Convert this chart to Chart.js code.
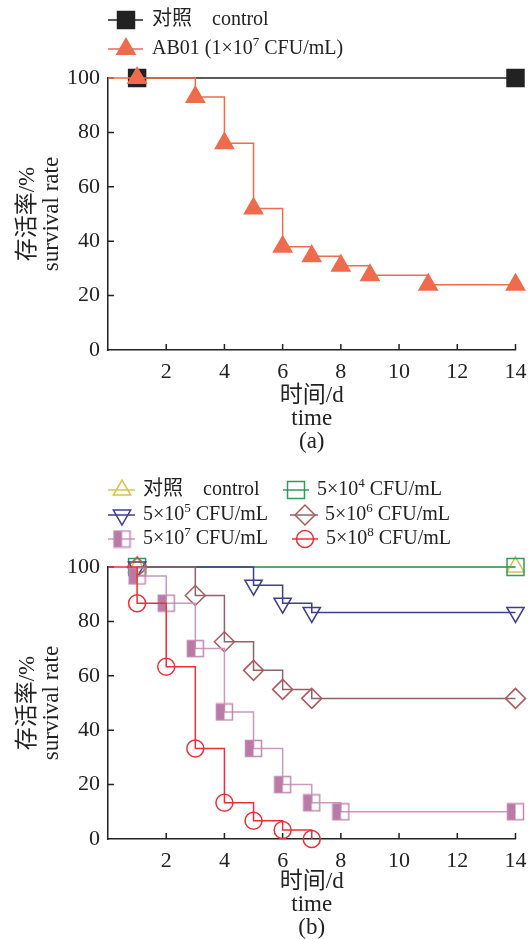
<!DOCTYPE html>
<html>
<head>
<meta charset="utf-8">
<script src="https://cdn.jsdelivr.net/npm/chart.js@4.4.0/dist/chart.umd.min.js"></script>
<style>
  html, body { margin: 0; padding: 0; background: #fff; }
  #wrap { position: relative; width: 529px; height: 939px; }
  canvas { position: absolute; left: 0; }
</style>
</head>
<body>
<div id="wrap">
  <canvas id="chartA" width="529" height="465" style="top:0"></canvas>
  <canvas id="chartB" width="529" height="474" style="top:465px"></canvas>
</div>
<script>
// axis ticks
const xTicks = [0, 2, 4, 6, 8, 10, 12, 14];
const yTicks = [0, 20, 40, 60, 80, 100];

// (a) survival %
const daysCtrlA = [1, 14];
const survCtrlA = [100, 100];
const daysAB01 = [0, 1, 3, 4, 5, 6, 7, 8, 9, 11, 14];
const survAB01 = [100, 100, 93, 76, 52, 38, 34.5, 31, 27.5, 24, 24];

// (b) survival % for each dose
const daysCtrlB = [1, 14];
const survCtrlB = [100, 100];
const days5e4 = [1, 14];
const surv5e4 = [100, 100];
const days5e5 = [1, 5, 6, 7, 14];
const surv5e5 = [100, 93.3, 86.7, 83.3, 83.3];
const days5e6 = [1, 3, 4, 5, 6, 7, 14];
const surv5e6 = [100, 89.5, 72.5, 62, 55, 51.7, 51.7];
const days5e7 = [1, 2, 3, 4, 5, 6, 7, 8, 14];
const surv5e7 = [96.7, 86.7, 70, 46.7, 33.3, 20, 13.3, 10, 10];
const days5e8 = [0, 1, 2, 3, 4, 5, 6, 7];
const surv5e8 = [100, 86.7, 63.3, 33.3, 13.3, 6.7, 3.3, 0];

const SERIF = '"Liberation Serif", "Noto Sans CJK SC", serif';
const INK = '#222';

// half filled square marker for 5x10^7
const halfSq = document.createElement('canvas');
halfSq.width = halfSq.height = 19;
const hc = halfSq.getContext('2d');
hc.fillStyle = '#b97aa6';
hc.fillRect(1.5, 1.5, 8, 16);
hc.strokeStyle = '#c488b0';
hc.lineWidth = 1.5;
hc.strokeRect(1.5, 1.5, 16, 16);

function series(xs, ys, o) {
  return Object.assign({
    data: xs.map((x, i) => ({ x: x, y: ys[i] })),
    stepped: true,
    clip: false,
    borderWidth: 1.5,
    pointBorderWidth: 1.5,
    pointBackgroundColor: 'rgba(0,0,0,0)',
    pointRadius: c => (c.raw && c.raw.x === 0) ? 0 : o.r
  }, o);
}

// text with superscripts: parts = [[text, isSup], ...]
function drawRich(ctx, x, y, parts) {
  ctx.textBaseline = 'middle';
  ctx.textAlign = 'left';
  ctx.fillStyle = INK;
  parts.forEach(p => {
    ctx.font = p[1] ? '13px ' + SERIF : '20px ' + SERIF;
    ctx.fillText(p[0], x, p[1] ? y - 6 : y);
    x += ctx.measureText(p[0]).width;
  });
}

function makeLegend(items) {
  return {
    id: 'handLegend',
    afterDraw(chart) {
      const ctx = chart.ctx;
      items.forEach(it => {
        ctx.save();
        ctx.strokeStyle = it.line;
        ctx.lineWidth = 1.5;
        ctx.beginPath();
        ctx.moveTo(it.x0, it.y);
        ctx.lineTo(it.x1, it.y);
        ctx.stroke();
        ctx.fillStyle = it.fill || 'rgba(0,0,0,0)';
        ctx.strokeStyle = it.color;
        Chart.helpers.drawPoint(ctx, { pointStyle: it.style, rotation: it.rot || 0, radius: it.r, borderWidth: 1.5 }, it.mx, it.y);
        drawRich(ctx, it.tx, it.y, it.text);
        ctx.restore();
      });
    }
  };
}

// inward tick marks
const inTicks = {
  id: 'inTicks',
  beforeDatasetsDraw(chart) {
    const { ctx, chartArea: a, scales: { x, y } } = chart;
    ctx.save();
    ctx.strokeStyle = INK;
    ctx.lineWidth = 1.5;
    ctx.beginPath();
    xTicks.filter(v => v > 0).forEach(v => {
      const px = x.getPixelForValue(v);
      ctx.moveTo(px, a.bottom);
      ctx.lineTo(px, a.bottom - 6);
    });
    yTicks.filter(v => v > 0).forEach(v => {
      const py = y.getPixelForValue(v);
      ctx.moveTo(a.left, py);
      ctx.lineTo(a.left + 6, py);
    });
    ctx.stroke();
    ctx.restore();
  }
};

function makeChart(id, H, plotTop, plotBottom, tag, titlePadBottom, datasets, legendItems) {
  return new Chart(document.getElementById(id), {
    type: 'line',
    data: { datasets: datasets },
    options: {
      responsive: false,
      animation: false,
      layout: { padding: { top: plotTop, right: 13, left: 0, bottom: 0 } },
      plugins: { legend: { display: false }, tooltip: { enabled: false } },
      scales: {
        x: {
          type: 'linear', min: 0, max: 14,
          afterBuildTicks: s => { s.ticks = xTicks.map(v => ({ value: v })); },
          afterFit: s => { s.height = H - plotBottom; s.paddingLeft = 0; s.paddingRight = 0; },
          grid: { display: false, drawTicks: false },
          border: { display: true, color: INK, width: 1.5 },
          ticks: { color: INK, padding: 9, font: { family: SERIF, size: 22 }, callback: v => v === 0 ? '' : v, maxRotation: 0, autoSkip: false },
          title: { display: true, text: ['时间/d', 'time', tag], color: INK, font: { family: SERIF, size: 23, lineHeight: 1.0 }, padding: { top: 0, bottom: titlePadBottom } }
        },
        y: {
          min: 0, max: 100,
          afterBuildTicks: s => { s.ticks = yTicks.map(v => ({ value: v })); },
          afterFit: s => { s.width = 108; s.paddingTop = 0; s.paddingBottom = 0; },
          grid: { display: false, drawTicks: false },
          border: { display: true, color: INK, width: 1.5 },
          ticks: { color: INK, padding: 8, font: { family: SERIF, size: 22 } },
          title: { display: true, text: ['存活率/%', 'survival rate'], color: INK, font: { family: SERIF, size: 23, lineHeight: 1.05 }, padding: { top: 16, bottom: 0 } }
        }
      }
    },
    plugins: [inTicks, makeLegend(legendItems)]
  });
}

// ---- (a)
const orange = '#ee6b4d';
makeChart('chartA', 465, 78, 350, '(a)', 11.5, [
  series(daysAB01, survAB01, { borderColor: orange, pointStyle: 'triangle', pointBackgroundColor: orange, pointBorderColor: orange, r: 10.5 }),
  series(daysCtrlA, survCtrlA, { borderColor: INK, pointStyle: 'rect', pointBackgroundColor: INK, pointBorderColor: INK, r: 12 })
], [
  { y: 20, x0: 108, x1: 143, mx: 126, tx: 152, line: INK, color: INK, fill: INK, style: 'rect', r: 12, text: [['对照\u3000control']] },
  { y: 49, x0: 108, x1: 143, mx: 126, tx: 152, line: orange, color: orange, fill: orange, style: 'triangle', r: 10.5, text: [['AB01 (1×10'], ['7', 1], [' CFU/mL)']] }
]);

// ---- (b)
const cYel = '#d6c44c', cGrn = '#2f9b5f', cBlu = '#3e3e90', cBrn = '#ac5a5e', cBrnL = '#8e636a', cPnk = '#c084ab', cPnkL = '#cc98c0', cRed = '#ee2e36';
makeChart('chartB', 474, 102, 374, '(b)', 0, [
  series(days5e8, surv5e8, { borderColor: cRed, pointStyle: 'circle', pointBorderColor: cRed, r: 8.5 }),
  series(days5e7, surv5e7, { borderColor: cPnkL, pointStyle: halfSq, pointBorderColor: cPnk, r: 9 }),
  series(days5e6, surv5e6, { borderColor: cBrnL, pointStyle: 'rectRot', pointBorderColor: cBrn, r: 10 }),
  series(days5e5, surv5e5, { borderColor: cBlu, pointStyle: 'triangle', pointRotation: 180, pointBorderColor: cBlu, r: 10 }),
  series(days5e4, surv5e4, { borderColor: cGrn, pointStyle: 'rect', pointBorderColor: cGrn, r: 12 }),
  series(daysCtrlB, survCtrlB, { borderColor: cYel, pointStyle: 'triangle', pointBorderColor: cYel, r: 10 })
], [
  { y: 25, x0: 108, x1: 135, mx: 122, tx: 143, line: cYel, color: cYel, style: 'triangle', r: 10, text: [['对照\u3000control']] },
  { y: 25, x0: 283, x1: 309, mx: 296, tx: 317, line: cGrn, color: cGrn, style: 'rect', r: 12, text: [['5×10'], ['4', 1], [' CFU/mL']] },
  { y: 50, x0: 108, x1: 135, mx: 122, tx: 143, line: cBlu, color: cBlu, style: 'triangle', rot: 180, r: 10, text: [['5×10'], ['5', 1], [' CFU/mL']] },
  { y: 50, x0: 290, x1: 318, mx: 305, tx: 325, line: cBrnL, color: cBrn, style: 'rectRot', r: 10, text: [['5×10'], ['6', 1], [' CFU/mL']] },
  { y: 74, x0: 108, x1: 135, mx: 122, tx: 143, line: cPnkL, color: cPnk, style: halfSq, r: 9, text: [['5×10'], ['7', 1], [' CFU/mL']] },
  { y: 74, x0: 292, x1: 318, mx: 305, tx: 326, line: cRed, color: cRed, style: 'circle', r: 8.5, text: [['5×10'], ['8', 1], [' CFU/mL']] }
]);
</script>
</body>
</html>
